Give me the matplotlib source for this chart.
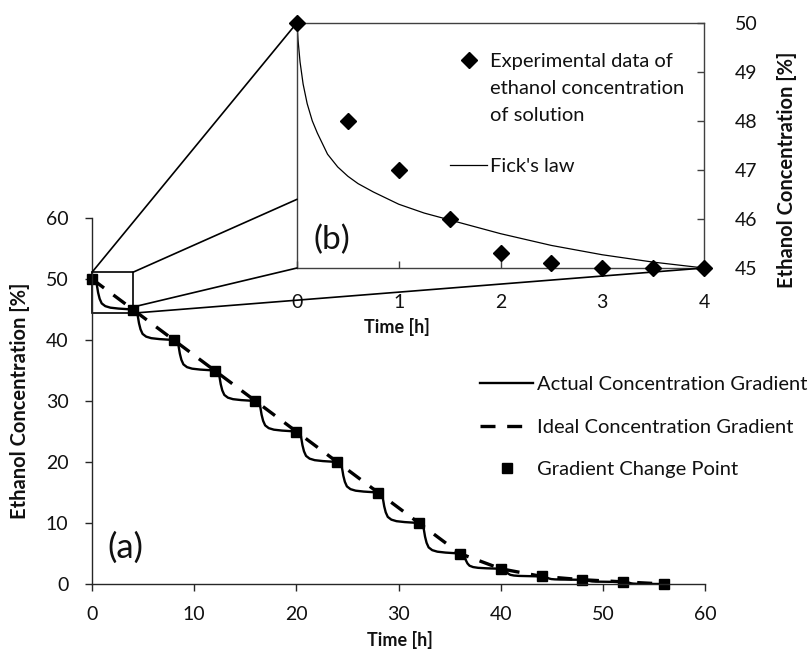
import numpy as np
import matplotlib
matplotlib.use("Agg")
import matplotlib.pyplot as plt
from matplotlib.lines import Line2D
from matplotlib.patches import Rectangle, ConnectionPatch

plt.rcParams['font.family'] = ['Lato', 'DejaVu Sans']
NEGRO = '#111111'

# Puntos de cambio de gradiente (a)
t_cambio = [0, 4, 8, 12, 16, 20, 24, 28, 32, 36, 40, 44, 48, 52, 56]
c_cambio = [50, 45, 40, 35, 30, 25, 20, 15, 10, 5, 2.5, 1.25, 0.7, 0.35, 0]

# Forma de cada escalon (fraccion que queda vs horas desde el cambio)
escalon_dt = [0, 0.25, 0.45, 0.6, 0.75, 0.95, 1.3, 1.8, 2.6, 3.3]
escalon_frac = [1, 0.96, 0.85, 0.55, 0.35, 0.2, 0.11, 0.06, 0.03, 0.015]

# Datos experimentales del recuadro (b)
t_exp = [0, 0.5, 1, 1.5, 2, 2.5, 3, 3.5, 4]
c_exp = [50, 48, 47, 46, 45.3, 45.1, 45.0, 45.0, 45.0]

t_fick = [0, 0.01, 0.03, 0.06, 0.1, 0.15, 0.2, 0.3, 0.4, 0.5, 0.6, 0.75, 1, 1.25,
          1.5, 2, 2.5, 3, 3.5, 4]
c_fick = [50, 49.65, 49.2, 48.75, 48.35, 48.0, 47.75, 47.32, 47.06, 46.87, 46.72,
          46.55, 46.3, 46.12, 45.98, 45.7, 45.46, 45.27, 45.12, 45.0]

# Ventana del zoom en (a)
zoom_x = (0, 4)
zoom_y = (44.4, 51.1)

# Curva real armada por escalones
t_real, c_real = [], []
for i in range(len(t_cambio) - 1):
    for dt, f in zip(escalon_dt, escalon_frac):
        t_real.append(t_cambio[i] + dt)
        c_real.append(c_cambio[i + 1] + (c_cambio[i] - c_cambio[i + 1]) * f)
t_real.append(t_cambio[-1])
c_real.append(c_cambio[-1])

fig = plt.figure(figsize=(8.1, 6.53), dpi=100)
ax = fig.add_axes([92 / 810, 1 - 584 / 653, 613 / 810, 366 / 653])

linea_real, = ax.plot(t_real, c_real, color='black', lw=1.7,
                      label='Actual Concentration Gradient')
linea_ideal, = ax.plot(t_cambio, c_cambio, color='black', lw=2.4, dashes=(4.5, 3.5),
                       label='Ideal Concentration Gradient')
puntos, = ax.plot(t_cambio, c_cambio, 's', color='black', ms=6.5, clip_on=False,
                  label='Gradient Change Point')

ax.set_xlim(0, 60)
ax.set_ylim(0, 60)
ax.set_xticks(range(0, 61, 10))
ax.set_yticks(range(0, 61, 10))
for s in ['top', 'right']:
    ax.spines[s].set_visible(False)
for s in ['left', 'bottom']:
    ax.spines[s].set_color('#262626')
    ax.spines[s].set_linewidth(1.0)
ax.tick_params(axis='both', direction='out', length=5, width=1.0, color='#262626',
               labelsize=14, labelcolor=NEGRO)
ax.tick_params(axis='x', pad=11)
ax.tick_params(axis='y', pad=12)
ax.set_xlabel('Time [h]', fontsize=13, fontweight='bold', color=NEGRO)
ax.xaxis.set_label_coords(0.502, -0.128)
ax.set_ylabel('Ethanol Concentration [%]', fontsize=14.5, fontweight='bold', color=NEGRO)
ax.yaxis.set_label_coords(-0.101, 0.5)
ax.text(1.5, 5.9, '(a)', fontsize=25, va='center', color=NEGRO)

ax.add_patch(Rectangle((zoom_x[0], zoom_y[0]), zoom_x[1] - zoom_x[0],
                       zoom_y[1] - zoom_y[0], fill=False, lw=1.2, ec='black', clip_on=False))

ax.legend(handles=[linea_real, linea_ideal, puntos], loc='upper left',
          bbox_to_anchor=(480 / 810, 1 - 376 / 653), bbox_transform=fig.transFigure,
          frameon=False, fontsize=14.5, handlelength=2.64, handletextpad=0.2,
          labelspacing=1.27, borderpad=0, borderaxespad=0, labelcolor=NEGRO)

# Recuadro (b)
ax_in = fig.add_axes([297 / 810, 1 - 268 / 653, 407 / 810, 245.3 / 653])
ax_in.patch.set_facecolor('white')
exp_pts, = ax_in.plot(t_exp, c_exp, 'D', color='black', ms=8, clip_on=False, zorder=3)
fick_line, = ax_in.plot(t_fick, c_fick, color='black', lw=0.9)
ax_in.set_xlim(0, 4)
ax_in.set_ylim(45, 50)
ax_in.set_xticks(range(0, 5))
ax_in.set_yticks(range(45, 51))
ax_in.yaxis.tick_right()
ax_in.yaxis.set_label_position('right')
for s in ax_in.spines.values():
    s.set_color('#404040')
    s.set_linewidth(1.0)
ax_in.tick_params(axis='both', direction='in', length=5, width=1.0, color='#404040',
                  labelsize=14, labelcolor=NEGRO)
ax_in.tick_params(axis='x', pad=19)
ax_in.tick_params(axis='y', pad=22)
ax_in.set_xlabel('Time [h]', fontsize=13, fontweight='bold', color=NEGRO)
ax_in.xaxis.set_label_coords(0.246, -0.205)
ax_in.set_ylabel('Ethanol Concentration [%]', fontsize=14.5, fontweight='bold', color=NEGRO)
ax_in.yaxis.set_label_coords(1.18, 0.40)
ax_in.text(0.16, 45.57, '(b)', fontsize=24, va='center', color=NEGRO)

vacio = Line2D([], [], linestyle='none')
leg1 = ax_in.legend(handles=[exp_pts, vacio, vacio],
                    labels=['Experimental data of', 'ethanol concentration', 'of solution'],
                    loc='upper left', bbox_to_anchor=(450 / 810, 1 - 53 / 653),
                    bbox_transform=fig.transFigure, frameon=False, fontsize=14.5,
                    handlelength=1.84, handletextpad=0.15, labelspacing=0.5,
                    borderpad=0, borderaxespad=0, labelcolor=NEGRO)
ax_in.add_artist(leg1)
ax_in.legend(handles=[fick_line], labels=["Fick's law"], loc='upper left',
             bbox_to_anchor=(450 / 810, 1 - 158 / 653), bbox_transform=fig.transFigure,
             frameon=False, fontsize=14.5, handlelength=1.84, handletextpad=0.15,
             borderpad=0, borderaxespad=0, labelcolor=NEGRO)

# Lineas que unen el zoom con el recuadro
pares = [((zoom_x[0], zoom_y[1]), (0, 50)),
         ((zoom_x[1], zoom_y[1]), (0, 46.4)),
         ((zoom_x[1], 45.4), (0, 45)),
         ((zoom_x[1], zoom_y[0]), (4, 45))]
for pa, pb in pares:
    con = ConnectionPatch(xyA=pa, coordsA=ax.transData, xyB=pb, coordsB=ax_in.transData,
                          color='black', lw=1.2, zorder=1)
    fig.add_artist(con)

fig.savefig('out.png', dpi=100)
